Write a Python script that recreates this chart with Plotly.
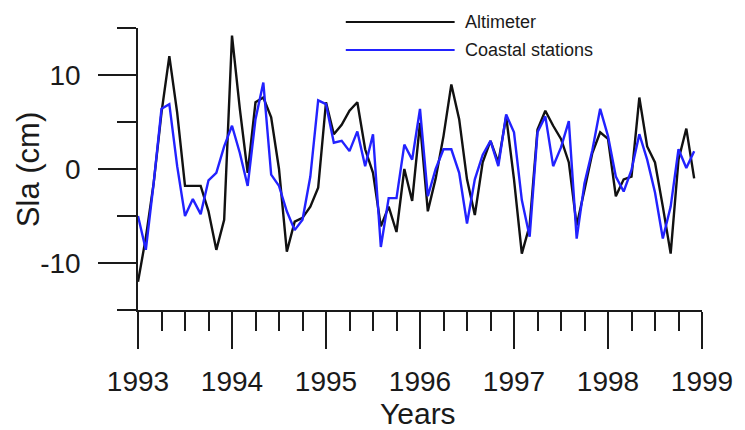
import numpy as np
import plotly.graph_objects as go

# Monthly sea level anomaly (cm), Jan 1993 .. Dec 1998
altimeter = [
    -12.0, -7.3, -1.5, 6.0, 12.0, 6.0, -1.8, -1.8, -1.8, -4.5, -8.6, -5.4,
    14.2, 6.4, -0.4, 7.1, 7.6, 5.5, 0.0, -8.8, -5.6, -5.2, -4.0, -2.0,
    7.1, 3.7, 4.7, 6.2, 7.1, 2.1, -0.4, -6.1, -4.0, -6.7, 0.0, -3.4,
    4.9, -4.5, -1.0, 3.5, 9.0, 5.3, -1.1, -4.9, 0.7, 3.0, 0.7, 5.6,
    -1.1, -9.0, -6.0, 4.2, 6.2, 4.6, 3.2, 0.7, -6.0, -2.2, 1.7, 3.9,
    3.2, -2.9, -1.1, -0.8, 7.6, 2.4, 0.7, -4.0, -9.0, 1.0, 4.3, -1.0,
]
coastal = [
    -5.0, -8.6, -1.5, 6.4, 6.9, 0.3, -5.0, -3.2, -4.8, -1.2, -0.4, 2.4,
    4.6, 1.7, -1.8, 5.3, 9.2, -0.6, -1.8, -4.5, -6.5, -5.4, -0.8, 7.3,
    6.9, 2.8, 3.0, 1.9, 4.0, 0.3, 3.7, -8.3, -3.1, -3.1, 2.6, 1.0,
    6.4, -2.9, 0.0, 2.1, 2.1, -0.4, -5.8, -1.1, 1.5, 3.0, 0.3, 5.8,
    3.9, -3.3, -7.2, 3.9, 5.6, 0.3, 2.3, 5.1, -7.4, -1.5, 2.0, 6.4,
    3.5, -0.8, -2.4, -0.1, 3.7, 1.0, -2.5, -7.4, -4.0, 2.1, 0.1, 1.9,
]
start_year = 1993
year_ticks = [1993, 1994, 1995, 1996, 1997, 1998, 1999]
sla_ticks = [-10, 0, 10]
series_names = ["Altimeter", "Coastal stations"]

t = start_year + np.arange(len(altimeter)) / 12.0

BLACK = "#111111"
BLUE = "#2222ff"
FONT = "Arial, Liberation Sans, sans-serif"

fig = go.Figure()
fig.add_trace(go.Scatter(x=t, y=altimeter, mode="lines", name=series_names[0],
                         line=dict(color=BLACK, width=2.4)))
fig.add_trace(go.Scatter(x=t, y=coastal, mode="lines", name=series_names[1],
                         line=dict(color=BLUE, width=2.4)))

axis_common = dict(showgrid=False, zeroline=False, showline=True, linecolor="#1a1a1a",
                   linewidth=1.5, ticks="outside", tickcolor="#1a1a1a", tickwidth=1.5,
                   tickfont=dict(family=FONT, size=28, color="#1a1a1a"))

fig.update_xaxes(range=[1993, 1999], tickvals=year_ticks, ticktext=[str(v) for v in year_ticks],
                 ticklen=37, ticklabelstandoff=9,
                 minor=dict(dtick=0.25, tick0=1993, ticklen=19, tickwidth=1.5,
                            tickcolor="#1a1a1a", ticks="outside"),
                 **axis_common)
fig.update_yaxes(range=[-15, 15], tickvals=sla_ticks, ticktext=[str(v) for v in sla_ticks],
                 ticklen=38, ticklabelstandoff=12,
                 minor=dict(dtick=5, tick0=-15, ticklen=19, tickwidth=1.5,
                            tickcolor="#1a1a1a", ticks="outside"),
                 **axis_common)

# page body has an 8px margin; figure is sized so the plot lands where the reference has it
OFF = 8
W, H = 745 - OFF, 430 - OFF
L, R, T, B = 138 - OFF, 37, 28 - OFF, 120
pw, ph = W - L - R, H - T - B


def px2x(px):
    return (px - OFF - L) / pw


def py2y(py):
    return (H - B - (py - OFF)) / ph


# Legend drawn manually
for i, (name, col) in enumerate(zip(series_names, [BLACK, BLUE])):
    yy = py2y(22 + 28 * i)
    fig.add_shape(type="line", xref="paper", yref="paper", x0=px2x(348), x1=px2x(458),
                  y0=yy, y1=yy, line=dict(color=col, width=2))
    fig.add_annotation(xref="paper", yref="paper", x=px2x(466), y=yy, text=name,
                       showarrow=False, xanchor="left", yanchor="middle",
                       font=dict(family=FONT, size=18, color="#1a1a1a"))

fig.add_annotation(xref="paper", yref="paper", x=px2x(421), y=py2y(413), text="Years",
                   showarrow=False, xanchor="center", yanchor="middle",
                   font=dict(family=FONT, size=30, color="#1a1a1a"))
fig.add_annotation(xref="paper", yref="paper", x=px2x(27), y=py2y(170), text="Sla (cm)",
                   showarrow=False, xanchor="center", yanchor="middle", textangle=-90,
                   font=dict(family=FONT, size=31, color="#1a1a1a"))

fig.update_layout(width=W, height=H, margin=dict(l=L, r=R, t=T, b=B, pad=0),
                  paper_bgcolor="white", plot_bgcolor="white", showlegend=False)

fig.write_html("out.html")
